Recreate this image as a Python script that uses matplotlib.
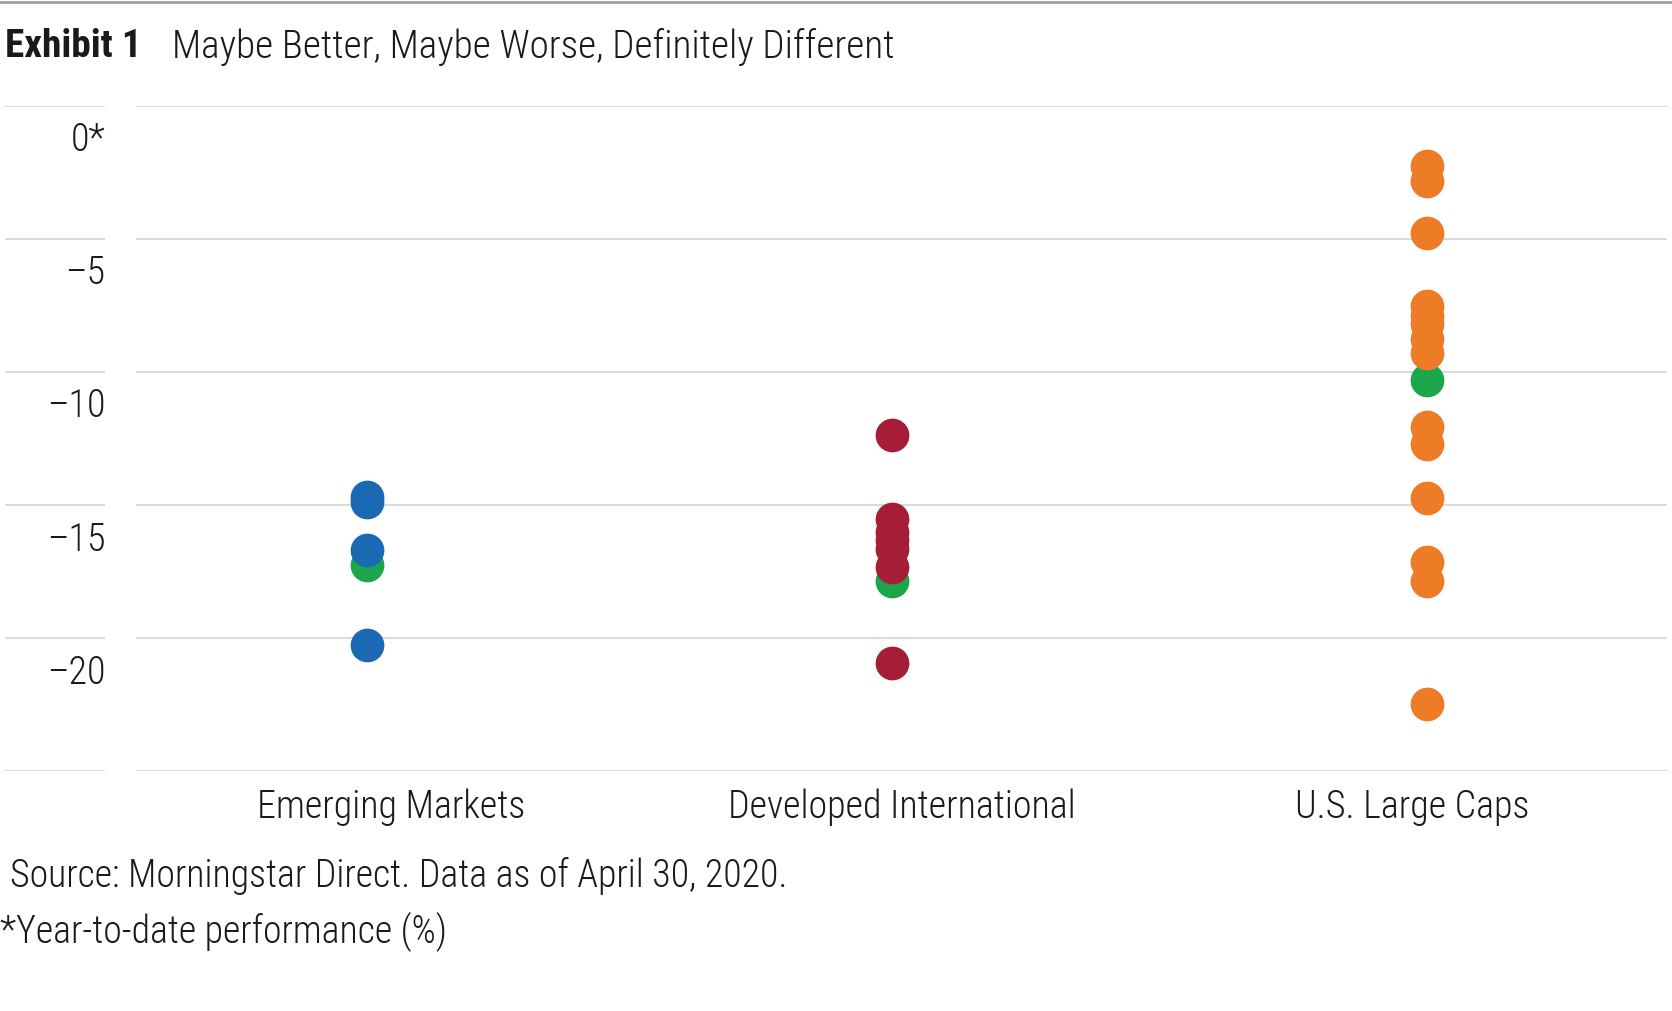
import os
import matplotlib
matplotlib.use("Agg")
import matplotlib.pyplot as plt
import matplotlib.font_manager as fm
from matplotlib.lines import Line2D

# data (year-to-date return, %)
categories = ['Emerging Markets', 'Developed International', 'U.S. Large Caps']
em_funds = [-14.71, -14.90, -16.68, -20.26]
di_funds = [-12.36, -15.53, -16.03, -16.34, -16.66, -17.35, -20.95]
us_funds = [-2.26, -2.85, -4.79, -7.52, -7.89, -8.20, -8.77, -9.29,
            -12.06, -12.71, -14.74, -17.16, -17.87, -22.48]
benchmarks = [-17.28, -17.87, -10.31]
y_ticks = [0, -5, -10, -15, -20]
y_tick_labels = ['0*', '\u20135', '\u201310', '\u201315', '\u201320']

colors = ['#1a69b2', '#a51d36', '#ee7b26']
green = '#1ba64b'
grid_c = '#d9d9d9'
text_c = '#1a1a1a'


# the original uses a condensed face; look for any narrow font that is installed
def find_condensed(bold):
    best, best_score = None, -1
    for f in fm.fontManager.ttflist:
        name = os.path.basename(f.fname).lower()
        if not ('condensed' in name or 'narrow' in name):
            continue
        if 'italic' in name or 'oblique' in name or 'semicondensed' in name \
                or 'extracondensed' in name:
            continue
        if bold:
            if 'bold' not in name or 'semibold' in name or 'extrabold' in name:
                continue
            score = 2
        else:
            if 'bold' in name or 'black' in name or 'medium' in name or 'thin' in name:
                continue
            score = 3 if ('light' in name and 'extralight' not in name) else 2
        if 'roboto' in name or 'noto' in name:
            score += 1
        if score > best_score:
            best, best_score = f.fname, score
    return best


reg_file = find_condensed(False)
bold_file = find_condensed(True)
if reg_file:
    fp = fm.FontProperties(fname=reg_file)
    scale = 1.0
else:
    fp = fm.FontProperties(family='DejaVu Sans')
    scale = 0.82
fpb = fm.FontProperties(fname=bold_file) if bold_file else fm.FontProperties(
    family='DejaVu Sans', weight='bold')


def font(size, bold=False):
    p = (fpb if bold else fp).copy()
    p.set_size(size * scale)
    return p


fig = plt.figure(figsize=(16.72, 10.12), dpi=100)

# main plot area
ax = fig.add_axes([0.0816, 0.2372, 0.9154, 0.6575])
ax.set_xlim(-0.5, 2.5)
ax.set_ylim(-25, 0)
for s in ax.spines.values():
    s.set_visible(False)
ax.set_yticks([0, -5, -10, -15, -20, -25])
ax.set_yticklabels([])
ax.tick_params(length=0)
ax.grid(axis='y', color=grid_c, linewidth=1.4)
ax.set_axisbelow(True)
ax.set_xticks(range(len(categories)))
ax.set_xticklabels(categories, color=text_c)
for t in ax.get_xticklabels():
    t.set_fontproperties(font(27.4))
ax.tick_params(axis='x', pad=12)

# dots sit a bit off the label centres in the original
offsets = [-0.048, -0.019, 0.030]
dot_size = 590
for i, vals in enumerate([em_funds, di_funds, us_funds]):
    ax.scatter([i + offsets[i]], [benchmarks[i]], s=dot_size, color=green,
               linewidths=0, zorder=3)
    ax.scatter([i + offsets[i]] * len(vals), vals, s=dot_size, color=colors[i],
               linewidths=0, zorder=4)

# y label strip on the left with its own short grid segments
lax = fig.add_axes([0.003, 0.2372, 0.0595, 0.6575])
lax.set_xlim(0, 1)
lax.set_ylim(-25, 0)
lax.axis('off')
for v in [0, -5, -10, -15, -20, -25]:
    lax.axhline(v, color=grid_c, linewidth=1.4)
for v, lab in zip(y_ticks, y_tick_labels):
    lax.annotate(lab, (1, v), xytext=(1, -34), textcoords='offset pixels',
                 ha='right', va='center', fontproperties=font(27.4), color=text_c)

# top rule
fig.add_artist(Line2D([0, 1], [0.997, 0.997], color='#a0a0a0', linewidth=2))

fig.text(0.003, 0.954, 'Exhibit 1', fontproperties=font(28.3, True),
         color=text_c, va='center')
fig.text(0.103, 0.954, 'Maybe Better, Maybe Worse, Definitely Different',
         fontproperties=font(28.2), color=text_c, va='center')
fig.text(0.0057, 0.134, 'Source: Morningstar Direct. Data as of April 30, 2020.',
         fontproperties=font(27.3), color=text_c, va='center')
fig.text(0.0, 0.079, '*Year-to-date performance (%)',
         fontproperties=font(27.3), color=text_c, va='center')

fig.savefig('out.png', dpi=100)
